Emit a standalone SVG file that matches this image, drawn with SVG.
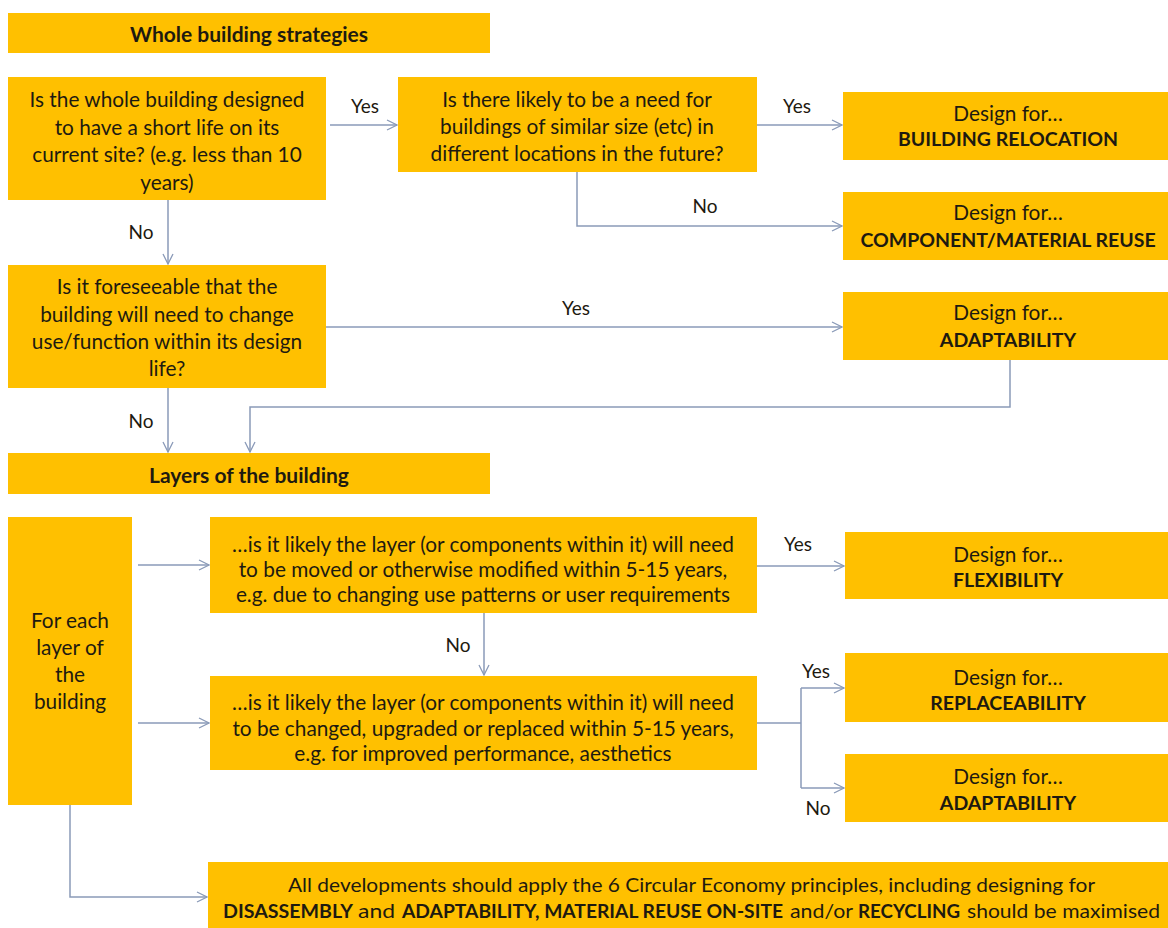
<svg xmlns="http://www.w3.org/2000/svg" width="1168" height="928" viewBox="0 0 1168 928">
<defs>
<style>
.box{fill:#FFC000;}
.t{font-family:Lato,"Open Sans","Liberation Sans",sans-serif;font-size:20.8px;fill:#1e1a10;text-anchor:middle;dominant-baseline:central;}
.s{text-anchor:start;font-size:19px;}
.b{font-weight:bold;}
.rb{font-size:19.5px;}
.h{font-size:21px;}
.lbl{font-family:Lato,"Open Sans","Liberation Sans",sans-serif;font-size:19px;fill:#1e1a10;text-anchor:middle;dominant-baseline:central;}
.c{fill:none;stroke:#8a9ab8;stroke-width:1.5;}
</style>
<marker id="ah" viewBox="0 0 12 12" refX="11" refY="6" markerWidth="12" markerHeight="12" markerUnits="userSpaceOnUse" orient="auto">
<path d="M1,1 L11,6 L1,11" fill="none" stroke="#8a9ab8" stroke-width="1.3"/>
</marker>
</defs>
<rect width="1168" height="928" fill="#ffffff"/>

<g id="connectors">
<path class="c" d="M330,125 H397" marker-end="url(#ah)"/>
<path class="c" d="M757,125 H842" marker-end="url(#ah)"/>
<path class="c" d="M577,172 V226 H842" marker-end="url(#ah)"/>
<path class="c" d="M168,200 V264" marker-end="url(#ah)"/>
<path class="c" d="M326,327 H842" marker-end="url(#ah)"/>
<path class="c" d="M168,388 V452" marker-end="url(#ah)"/>
<path class="c" d="M1010,360 V407 H250 V452" marker-end="url(#ah)"/>
<path class="c" d="M138,565 H209" marker-end="url(#ah)"/>
<path class="c" d="M138,723 H209" marker-end="url(#ah)"/>
<path class="c" d="M757,566 H844" marker-end="url(#ah)"/>
<path class="c" d="M484,613 V675" marker-end="url(#ah)"/>
<path class="c" d="M757,723 H801"/>
<path class="c" d="M801,688 V788"/>
<path class="c" d="M801,688 H844" marker-end="url(#ah)"/>
<path class="c" d="M801,788 H844" marker-end="url(#ah)"/>
<path class="c" d="M70,805 V897 H207" marker-end="url(#ah)"/>
<text class="lbl" x="365" y="105">Yes</text>
<text class="lbl" x="797" y="105">Yes</text>
<text class="lbl" x="705" y="205">No</text>
<text class="lbl" x="141" y="231">No</text>
<text class="lbl" x="576" y="307">Yes</text>
<text class="lbl" x="141" y="420">No</text>
<text class="lbl" x="798" y="543">Yes</text>
<text class="lbl" x="458" y="644">No</text>
<text class="lbl" x="816" y="670">Yes</text>
<text class="lbl" x="818" y="807">No</text>
</g>

<g id="h1">
<rect class="box" x="8" y="13" width="482" height="40"/>
<text class="t b h" x="249" y="33">Whole building strategies</text>
</g>

<g id="q1">
<rect class="box" x="8" y="77" width="318" height="123"/>
<text class="t" x="167" y="98">Is the whole building designed</text>
<text class="t" x="167" y="126">to have a short life on its</text>
<text class="t" x="167" y="153">current site? (e.g. less than 10</text>
<text class="t" x="167" y="181">years)</text>
</g>

<g id="q2">
<rect class="box" x="398" y="77" width="359" height="95"/>
<text class="t" x="577" y="98">Is there likely to be a need for</text>
<text class="t" x="577" y="125">buildings of similar size (etc) in</text>
<text class="t" x="577" y="152">different locations in the future?</text>
</g>

<g id="r1">
<rect class="box" x="843" y="92" width="325" height="68"/>
<text class="t" x="1008" y="112">Design for…</text>
<text class="t b rb" x="1008" y="138">BUILDING RELOCATION</text>
</g>

<g id="r2">
<rect class="box" x="843" y="192" width="325" height="68"/>
<text class="t" x="1008" y="211">Design for…</text>
<text class="t b rb" x="1008" y="239">COMPONENT/MATERIAL REUSE</text>
</g>

<g id="r3">
<rect class="box" x="843" y="292" width="325" height="68"/>
<text class="t" x="1008" y="311">Design for…</text>
<text class="t b rb" x="1008" y="339">ADAPTABILITY</text>
</g>

<g id="q3">
<rect class="box" x="8" y="265" width="318" height="123"/>
<text class="t" x="167" y="285">Is it foreseeable that the</text>
<text class="t" x="167" y="313">building will need to change</text>
<text class="t" x="167" y="340">use/function within its design</text>
<text class="t" x="167" y="367">life?</text>
</g>

<g id="h2">
<rect class="box" x="8" y="453" width="482" height="41"/>
<text class="t b h" x="249" y="474">Layers of the building</text>
</g>

<g id="layer">
<rect class="box" x="8" y="517" width="124" height="288"/>
<text class="t" x="70" y="619">For each</text>
<text class="t" x="70" y="646">layer of</text>
<text class="t" x="70" y="673">the</text>
<text class="t" x="70" y="700">building</text>
</g>

<g id="q4">
<rect class="box" x="210" y="517" width="547" height="96"/>
<text class="t" x="483" y="543">…is it likely the layer (or components within it) will need</text>
<text class="t" x="483" y="568">to be moved or otherwise modified within 5-15 years,</text>
<text class="t" x="483" y="593">e.g. due to changing use patterns or user requirements</text>
</g>

<g id="r4">
<rect class="box" x="845" y="532" width="323" height="67"/>
<text class="t" x="1008" y="553">Design for…</text>
<text class="t b rb" x="1008" y="579">FLEXIBILITY</text>
</g>

<g id="q5">
<rect class="box" x="210" y="676" width="547" height="94"/>
<text class="t" x="483" y="701">…is it likely the layer (or components within it) will need</text>
<text class="t" x="483" y="727">to be changed, upgraded or replaced within 5-15 years,</text>
<text class="t" x="483" y="752">e.g. for improved performance, aesthetics</text>
</g>

<g id="r5">
<rect class="box" x="845" y="653" width="323" height="69"/>
<text class="t" x="1008" y="676">Design for…</text>
<text class="t b rb" x="1008" y="702">REPLACEABILITY</text>
</g>

<g id="r6">
<rect class="box" x="845" y="754" width="323" height="68"/>
<text class="t" x="1008" y="775">Design for…</text>
<text class="t b rb" x="1008" y="802">ADAPTABILITY</text>
</g>

<g id="all">
<rect class="box" x="208" y="862" width="960" height="66"/>
<text class="t s" x="288" y="884" textLength="807" lengthAdjust="spacingAndGlyphs">All developments should apply the 6 Circular Economy principles, including designing for</text>
<text class="t s b" x="223" y="910" textLength="130" lengthAdjust="spacingAndGlyphs">DISASSEMBLY</text>
<text class="t s" x="358" y="910" textLength="37" lengthAdjust="spacingAndGlyphs">and</text>
<text class="t s b" x="402" y="910" textLength="381" lengthAdjust="spacingAndGlyphs">ADAPTABILITY, MATERIAL REUSE ON-SITE</text>
<text class="t s" x="790" y="910" textLength="63" lengthAdjust="spacingAndGlyphs">and/or</text>
<text class="t s b" x="858" y="910" textLength="102" lengthAdjust="spacingAndGlyphs">RECYCLING</text>
<text class="t s" x="967" y="910" textLength="193" lengthAdjust="spacingAndGlyphs">should be maximised</text>
</g>
</svg>
